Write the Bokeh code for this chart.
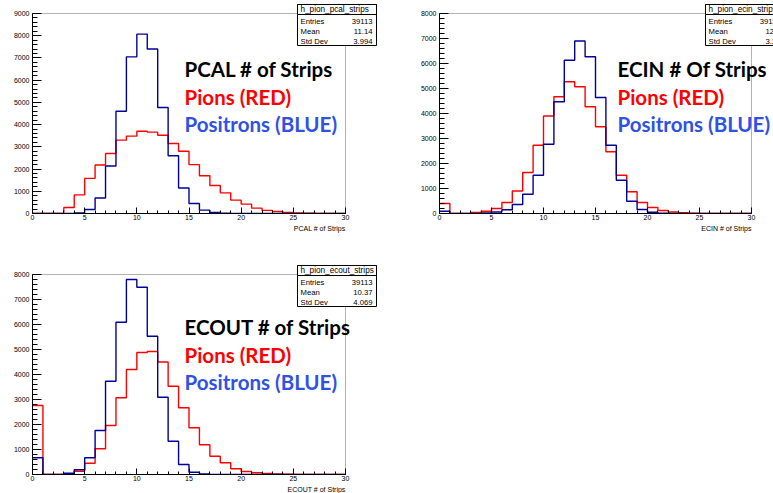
from bokeh.plotting import figure
from bokeh.models import FixedTicker, Label, BoxAnnotation, Range1d, Title
from bokeh.layouts import row, column
from bokeh.embed import file_html
from bokeh.resources import INLINE

# ---------------- data (bin contents, bins of width 1 from 0 to 30) ----------------
bin_edges = list(range(31))

pcal_pion = [0, 0, 0, 270, 840, 1580, 2180, 2700, 3300, 3480, 3700, 3660, 3520, 3150, 2800,
             2200, 1700, 1260, 930, 600, 420, 240, 140, 90, 50, 20, 10, 0, 0, 0]
pcal_positron = [0, 0, 0, 0, 30, 180, 700, 2140, 4600, 7050, 8070, 7400, 4770, 2600, 1150,
                 450, 150, 50, 10, 0, 0, 0, 0, 0, 0, 0, 0, 0, 0, 0]

ecin_pion = [400, 0, 0, 40, 90, 200, 440, 900, 1640, 2730, 3900, 4670, 5270, 5070, 4270,
             3470, 2470, 1530, 870, 440, 240, 120, 60, 30, 10, 0, 0, 0, 0, 0]
ecin_positron = [90, 0, 0, 0, 20, 60, 150, 360, 770, 1530, 2770, 4470, 6130, 6900, 6270,
                 4640, 2730, 1330, 490, 160, 50, 15, 0, 0, 0, 0, 0, 0, 0, 0]

ecout_pion = [2760, 0, 0, 30, 130, 450, 1030, 1960, 3070, 4200, 4880, 4920, 4500, 3530, 2670,
              1870, 1190, 730, 470, 230, 120, 70, 40, 25, 10, 0, 0, 0, 0, 0]
ecout_positron = [670, 0, 0, 50, 190, 670, 1760, 3730, 6090, 7800, 7490, 5530, 3090, 1330, 400,
                  90, 25, 0, 0, 0, 0, 0, 0, 0, 0, 0, 0, 0, 0, 0]

x_major_ticks = [0, 5, 10, 15, 20, 25, 30]
x_min, x_max = 0, 30

stat_names = ["Entries", "Mean", "Std Dev"]
pcal_stats = ["39113", "11.14", "3.994"]
ecin_stats = ["39113", "12.3", "3.25"]
ecout_stats = ["39113", "10.37", "4.069"]

RED = "#ff0000"
NAVY = "#000099"
TEXT_BLUE = "#2f52e4"
SMALL_FONT = "Liberation Sans"
BIG_FONT = "Lato"


def make_panel(W, H, bl, bb, fw, fh, ymax, xtitle, pion, positron,
               hname, stat_vals, titles, text_x, text_y, box_x):
    """W,H figure size; bl,bb left/bottom borders; fw,fh size (px) of the histogram frame.
    The Bokeh frame reaches the top and right edges of the figure, so that the statistics
    box and the big texts can extend beyond the histogram frame."""
    xs = (x_max - x_min) / fw          # data units per pixel
    ys = ymax / fh
    p = figure(width=W, height=H, output_backend="svg", toolbar_location=None,
               x_range=Range1d(x_min, x_min + (W - bl) * xs),
               y_range=Range1d(0, (H - bb) * ys),
               min_border_left=bl, min_border_right=0, min_border_top=0,
               min_border_bottom=bb)
    p.grid.visible = False
    p.outline_line_color = None
    p.background_fill_color = "white"
    p.border_fill_color = "white"

    ftop = H - bb - fh                 # top of histogram frame, figure-local px

    def dx(px):
        return x_min + (px - bl) * xs

    def dy(py):
        return (H - bb - py) * ys

    # histogram frame
    p.add_layout(BoxAnnotation(left=x_min, right=x_max, bottom=0, top=ymax,
                               fill_color=None, line_color="black", line_width=1,
                               level="underlay"))

    # histograms
    p.step(x=bin_edges, y=pion + [pion[-1]], mode="after", line_color=RED, line_width=1.4)
    p.step(x=bin_edges, y=positron + [positron[-1]], mode="after", line_color=NAVY,
           line_width=1.4)

    # axes
    xa = p.xaxis[0]
    xa.bounds = (x_min, x_max)
    xa.ticker = FixedTicker(ticks=x_major_ticks, minor_ticks=bin_edges)
    xa.major_tick_in = 6
    xa.major_tick_out = 0
    xa.minor_tick_in = 3
    xa.minor_tick_out = 0
    xa.major_label_standoff = 1

    ya = p.yaxis[0]
    ya.bounds = (0, ymax)
    ya.ticker = FixedTicker(ticks=list(range(0, ymax + 1, 1000)),
                            minor_ticks=list(range(0, ymax + 1, 200)))
    ya.major_tick_in = 9
    ya.major_tick_out = 0
    ya.minor_tick_in = 5
    ya.minor_tick_out = 0
    ya.major_label_standoff = 3
    for ax in (xa, ya):
        ax.axis_line_color = "black"
        ax.major_tick_line_color = "black"
        ax.minor_tick_line_color = "black"
        ax.major_label_text_font = SMALL_FONT
        ax.major_label_text_font_size = "7px"
        ax.major_label_text_color = "black"

    # x-axis title, right-aligned at the end of the histogram axis (ROOT style)
    p.add_layout(Title(text=xtitle, align="right", offset=W - bl - fw, standoff=0,
                       text_font=SMALL_FONT, text_font_size="7px",
                       text_font_style="normal", text_color="black"), "below")

    # statistics box (ROOT style)
    bx0, bx1 = box_x
    by0, byt, by1 = ftop - 9, ftop + 1, ftop + 32
    p.add_layout(BoxAnnotation(left=dx(bx0), right=dx(bx1), top=dy(by0), bottom=dy(by1),
                               fill_color="white", fill_alpha=1.0,
                               line_color="black", line_width=1, line_alpha=1.0))
    p.add_layout(BoxAnnotation(left=dx(bx0), right=dx(bx1), top=dy(by0), bottom=dy(byt),
                               fill_color="white", fill_alpha=1.0,
                               line_color="black", line_width=1, line_alpha=1.0))
    p.add_layout(Label(x=dx(bx0 + 3), y=dy((by0 + byt) / 2), text=hname,
                       text_font=SMALL_FONT, text_font_size="8.2px", text_baseline="middle",
                       text_align="left", text_color="black"))
    for i, (nm, val) in enumerate(zip(stat_names, stat_vals)):
        yc = byt + 6.5 + 10 * i
        p.add_layout(Label(x=dx(bx0 + 3), y=dy(yc), text=nm, text_font=SMALL_FONT,
                           text_font_size="7.7px", text_baseline="middle", text_align="left",
                           text_color="black"))
        p.add_layout(Label(x=dx(bx1 - 4), y=dy(yc), text=val, text_font=SMALL_FONT,
                           text_font_size="7.7px", text_baseline="middle", text_align="right",
                           text_color="black"))

    # big annotation texts
    for t, c, yy in zip(titles, ["black", RED, TEXT_BLUE], text_y):
        p.add_layout(Label(x=dx(text_x), y=dy(yy), text=t, text_font=BIG_FONT,
                           text_font_style="bold", text_font_size="20.5px",
                           text_baseline="alphabetic", text_align="left", text_color=c))
    return p


p1 = make_panel(400, 242, 32, 29, 313, 200, 9000, "PCAL # of Strips", pcal_pion, pcal_positron,
                "h_pion_pcal_strips", pcal_stats,
                ["PCAL # of Strips", "Pions (RED)", "Positrons (BLUE)"], 184, [68, 96, 123],
                (297, 376))
p2 = make_panel(373, 242, 39, 29, 312, 200, 8000, "ECIN # of Strips", ecin_pion, ecin_positron,
                "h_pion_ecin_strips", ecin_stats,
                ["ECIN # Of Strips", "Pions (RED)", "Positrons (BLUE)"], 617 - 400, [68, 96, 123],
                (705 - 400, 784 - 400))
p3 = make_panel(400, 251, 32, 19, 313, 200, 8000, "ECOUT # of Strips", ecout_pion,
                ecout_positron, "h_pion_ecout_strips", ecout_stats,
                ["ECOUT # of Strips", "Pions (RED)", "Positrons (BLUE)"], 184,
                [326 - 242, 354 - 242, 381 - 242],
                (297, 376))

layout = column(row(p1, p2), p3)

with open("out.html", "w") as f:
    f.write(file_html(layout, INLINE))
